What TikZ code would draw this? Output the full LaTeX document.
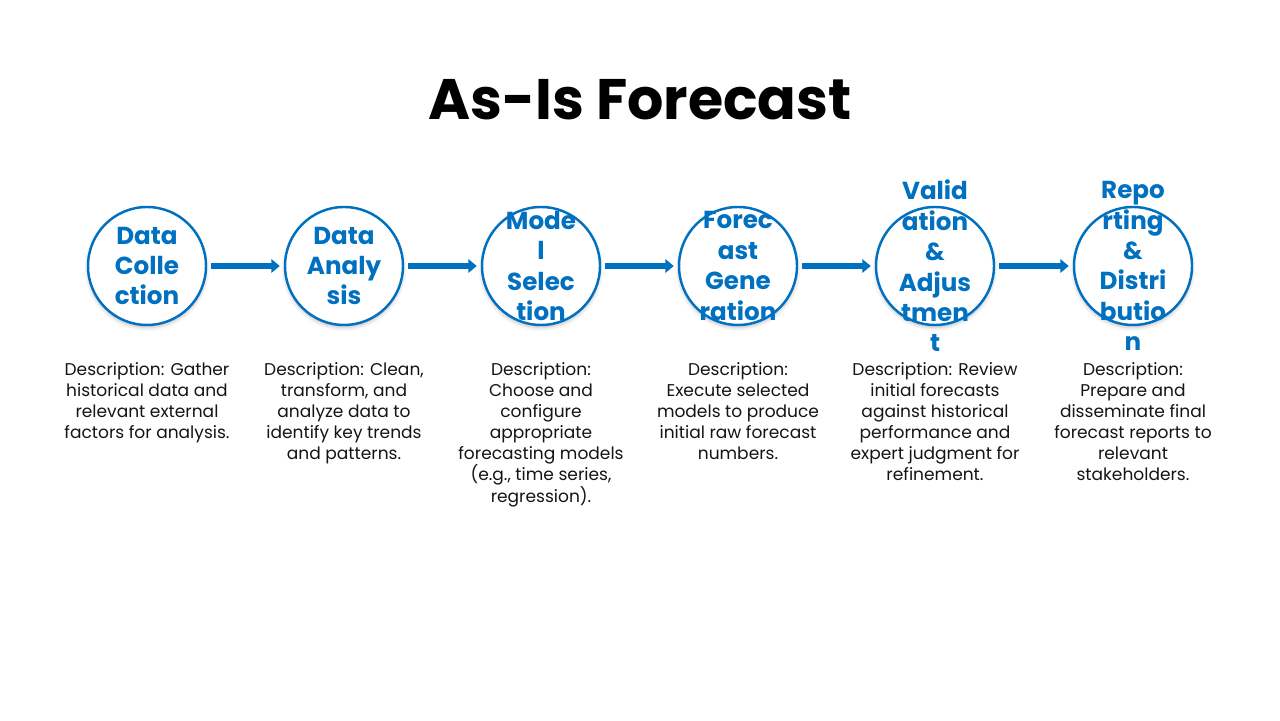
\documentclass[tikz,border=0pt]{standalone}
\usepackage{fontspec}
\setmainfont{Poppins}
\usepackage{tikz}
\usetikzlibrary{positioning, arrows.meta, shadows.blur}
\usepackage{xcolor}
\definecolor{stageblue}{RGB}{0,112,192}
\definecolor{descgray}{RGB}{20,20,20}

\begin{document}
\begin{tikzpicture}[>=Triangle]
        \tikzstyle{stage}=[circle, draw=stageblue, line width=1.4pt, fill=white, minimum size=2.36cm, inner sep=0pt,
            blur shadow={shadow xshift=0pt, shadow yshift=-0.05cm, shadow blur steps=6, shadow opacity=25}]
        \tikzstyle{stagetext}=[align=center, text=stageblue, font=\fontsize{14}{17.3}\selectfont\bfseries, inner sep=0pt]
        \tikzstyle{desc}=[align=center, text=descgray, font=\fontsize{9.7}{12}\selectfont, inner sep=0pt]
        \tikzstyle{flow}=[->, line width=3pt, draw=stageblue, shorten >=0.08cm, shorten <=0.08cm,
            >={Triangle[length=0.17cm, width=0.27cm]}]

        \useasboundingbox (0,0) rectangle (25.6,14.4);

        % Title
        \node (title) at (12.8,12.4) {\fontsize{32.5}{38}\selectfont\bfseries As-Is Forecast};

        % Stage circles
        \node (dc)[stage] at (2.94,9.08) {};
        \node (da)[stage] at (6.88,9.08) {};
        \node (ms)[stage] at (10.82,9.08) {};
        \node (fg)[stage] at (14.76,9.08) {};
        \node (va)[stage] at (18.70,9.08) {};
        \node (rd)[stage] at (22.66,9.08) {};

        % Stage names (drawn over the circles)
        \node[stagetext] at (dc) {Data\\Colle\\ction};
        \node[stagetext] at (da) {Data\\Analy\\sis};
        \node[stagetext] at (ms) {Mode\\l\\Selec\\tion};
        \node[stagetext] at (fg) {Forec\\ast\\Gene\\ration};
        \node[stagetext] at (va) {Valid\\ation\\\&\\Adjus\\tmen\\t};
        \node[stagetext] at (rd) {Repo\\rting\\\&\\Distri\\butio\\n};

        % Arrows between stages
        \draw[flow] (dc) -- (da);
        \draw[flow] (da) -- (ms);
        \draw[flow] (ms) -- (fg);
        \draw[flow] (fg) -- (va);
        \draw[flow] (va) -- (rd);

        % Descriptions below the circles
        \node (dc_desc)[desc, below=0.72cm of dc] {Description: Gather\\historical data and\\relevant external\\factors for analysis.};
        \node (da_desc)[desc, below=0.72cm of da] {Description: Clean,\\transform, and\\analyze data to\\identify key trends\\and patterns.};
        \node (ms_desc)[desc, below=0.72cm of ms] {Description:\\Choose and\\configure\\appropriate\\forecasting models\\(e.g., time series,\\regression).};
        \node (fg_desc)[desc, below=0.72cm of fg] {Description:\\Execute selected\\models to produce\\initial raw forecast\\numbers.};
        \node (va_desc)[desc, below=0.72cm of va] {Description: Review\\initial forecasts\\against historical\\performance and\\expert judgment for\\refinement.};
        \node (rd_desc)[desc, below=0.72cm of rd] {Description:\\Prepare and\\disseminate final\\forecast reports to\\relevant\\stakeholders.};
    \end{tikzpicture}
\end{document}
